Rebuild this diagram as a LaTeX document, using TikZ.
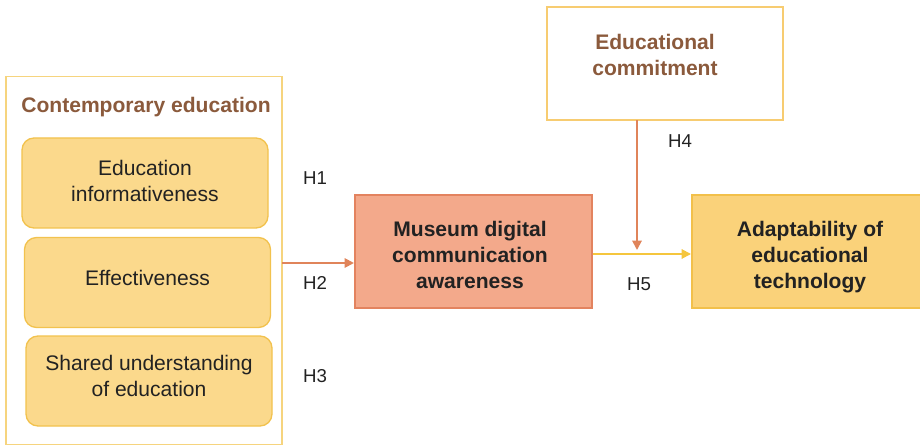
\documentclass[tikz,border=0pt]{standalone}
\usepackage{fontspec}
\setmainfont{Liberation Sans}
\usetikzlibrary{arrows.meta}
\definecolor{brownt}{HTML}{8B5A3C}
\definecolor{subfill}{HTML}{FBD98C}
\definecolor{subdraw}{HTML}{F2C24E}
\definecolor{outerdraw}{HTML}{F6D47E}
\definecolor{musfill}{HTML}{F3A98B}
\definecolor{musdraw}{HTML}{E3835F}
\definecolor{adfill}{HTML}{FAD27A}
\definecolor{addraw}{HTML}{F2C04A}
\definecolor{arrOr}{HTML}{E0845A}
\definecolor{arrYe}{HTML}{F5C63E}
\definecolor{txt}{HTML}{222222}
\tikzset{
  bigfont/.style={font=\fontsize{15.8}{19.5}\selectfont},
  hlabel/.style={font=\fontsize{14}{17}\selectfont, text=txt},
  subbox/.style={draw=subdraw, fill=subfill, line width=1pt, rounded corners=9pt,
    minimum width=184.5pt, minimum height=67.5pt, inner sep=0pt},
  subtext/.style={align=center, text=txt, bigfont},
  plainbox/.style={draw=outerdraw, fill=white, line width=1pt, inner sep=0pt},
  boldtext/.style={align=center, text=txt, font=\fontsize{15.8}{19.5}\selectfont\bfseries},
  arrowtip/.style={-{Triangle[length=7pt,width=7pt]}, line width=1.4pt},
}
\begin{document}
\begin{tikzpicture}[x=0.75pt,y=-0.75pt]
\useasboundingbox (0,0) rectangle (920,445);
% outer box
\node[plainbox, minimum width=207pt, minimum height=276pt] (outer) at (144,260.5) {};
\node[font=\fontsize{15.8}{19.5}\selectfont\bfseries, text=brownt] (title) at (146,107) {Contemporary education};
\node[subbox] (s1) at (145,183) {};
\node[subtext] (s1t) at (145,181) {Education\\informativeness};
\node[subbox] (s2) at (147.5,282.5) {};
\node[subtext] (s2t) at (147.5,278) {Effectiveness};
\node[subbox] (s3) at (149,381) {};
\node[subtext] (s3t) at (149,376) {Shared understanding\\of education};
% museum
\node[draw=musdraw, fill=musfill, line width=1pt, minimum width=177.75pt, minimum height=84.75pt, inner sep=0pt] (mus) at (473.5,251.5) {};
\node[boldtext] (mustxt) at (470,255) {Museum digital\\communication\\awareness};
% adaptability
\node[draw=addraw, fill=adfill, line width=1pt, minimum width=177pt, minimum height=84.75pt, inner sep=0pt] (adapt) at (810,251.5) {};
\node[boldtext] (adtxt) at (810,257) {Adaptability of\\educational\\technology};
% commitment
\node[plainbox, draw=outerdraw!90!orange, minimum width=177pt, minimum height=84.75pt] (commit) at (665,63.5) {};
\node[align=center, text=brownt, font=\fontsize{15.8}{19}\selectfont\bfseries] (committxt) at (655,55) {Educational\\commitment};
% connectors
\coordinate (a1) at (282,263);
\coordinate (a2) at (354,263);
\draw[arrowtip, draw=arrOr, fill=arrOr] (a1) -- (a2);
\coordinate (b1) at (593,254);
\coordinate (b2) at (691,254);
\draw[arrowtip, draw=arrYe, fill=arrYe] (b1) -- (b2);
\coordinate (c1) at (637,120.5);
\coordinate (c2) at (637,250);
\draw[arrowtip, draw=arrOr, fill=arrOr] (c1) -- (c2);
% labels
\node[hlabel] (h1) at (315,178) {H1};
\node[hlabel] (h2) at (315,283) {H2};
\node[hlabel] (h3) at (315,376) {H3};
\node[hlabel] (h4) at (680,141) {H4};
\node[hlabel] (h5) at (639,284) {H5};
\end{tikzpicture}
\end{document}
